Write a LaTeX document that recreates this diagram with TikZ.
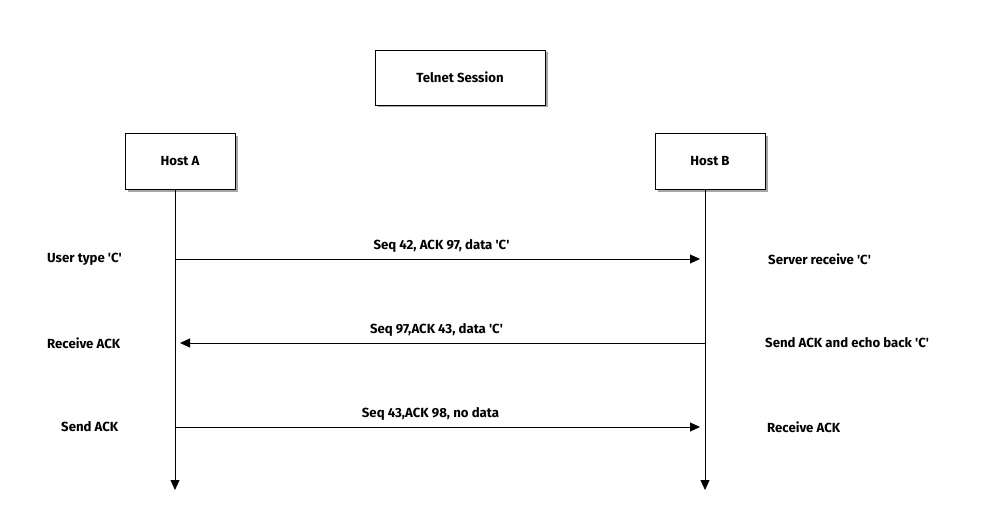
\documentclass[tikz,border=0pt]{standalone}
\usepackage{fontspec}
\setmainfont{Fira Sans}
\usetikzlibrary{arrows.meta,shadows}
\newcommand{\sq}{\textquotesingle}
\begin{document}
\begin{tikzpicture}[x=1pt,y=-1pt,
  box/.style={draw=black,line width=0.8pt,fill=white,minimum width=110pt,minimum height=56pt,
    drop shadow={shadow xshift=2.5pt,shadow yshift=-2.5pt,fill=black,opacity=0.35}},
  lbl/.style={font=\fontsize{13.2}{15}\selectfont\bfseries},
  side/.style={lbl,anchor=west,inner sep=0pt},
  msg/.style={line width=0.8pt,-{Triangle[length=10pt,width=9pt]}},
  life/.style={line width=0.8pt,-{Triangle[length=10pt,width=9pt]}}]
\useasboundingbox[fill=white] (0,0) rectangle (1000,532);
\node[box,minimum width=170pt,minimum height=55pt,lbl] (ts) at (460,77.5) {Telnet Session};
\node[box,lbl] (ha) at (180,161) {Host A};
\node[box,lbl] (hb) at (710,161) {Host B};
\coordinate (a0) at (175,189);
\coordinate (a1) at (175,490);
\coordinate (b0) at (705,189);
\coordinate (b1) at (705,490);
\draw[life] (a0) -- (a1);
\draw[life] (b0) -- (b1);
\coordinate (m1s) at (175,259);
\coordinate (m1e) at (700,259);
\coordinate (m2s) at (705,343);
\coordinate (m2e) at (180,343);
\coordinate (m3s) at (175,427);
\coordinate (m3e) at (700,427);
\draw[msg] (m1s) -- node[lbl,above=3pt,xshift=4pt] (l1) {Seq 42, ACK 97, data \sq C\sq} (m1e);
\draw[msg] (m2s) -- node[lbl,above=3pt,xshift=-6pt] (l2) {Seq 97,ACK 43, data \sq C\sq} (m2e);
\draw[msg] (m3s) -- node[lbl,above=3pt,xshift=-7pt] (l3) {Seq 43,ACK 98, no data} (m3e);
\node[side] (u1) at (47,259) {User type \sq C\sq};
\node[side] (u2) at (47,343) {Receive ACK};
\node[side] (u3) at (61,427) {Send ACK};
\node[side] (s1) at (768,259) {Server receive \sq C\sq};
\node[side] (s2) at (765,343) {Send ACK and echo back \sq C\sq};
\node[side] (s3) at (767,427) {Receive ACK};
\end{tikzpicture}
\end{document}
